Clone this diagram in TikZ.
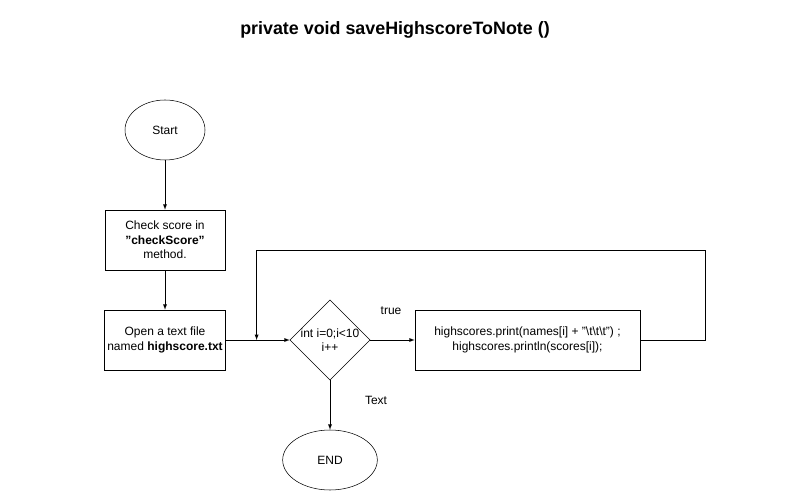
\documentclass[tikz,border=0pt]{standalone}
\usepackage{fontspec}
\setmainfont{Liberation Sans}
\usetikzlibrary{shapes.geometric,positioning,arrows}

\begin{document}
\begin{tikzpicture}[x=0.75pt,y=-0.75pt,
		every node/.style={on grid, font=\fontsize{9}{11}\selectfont},
		term/.style={draw, ellipse, minimum width=60pt, minimum height=45pt},
		proc/.style={draw, rectangle, minimum width=90pt, minimum height=45pt, align=center, inner sep=2pt},
		dec/.style={draw, diamond, minimum width=60pt, minimum height=60pt, inner sep=0pt},
		lbl/.style={inner sep=1pt},
		>=latex]
	\useasboundingbox (0,0) rectangle (791,491);
	\node[font=\bfseries\fontsize{13.4}{16}\selectfont] (title) at (395,30) {private void saveHighscoreToNote ()};
	
	\node[term] (start) at (165,130) {Start};
	\node[proc, below=82.5pt of start] (check) {Check score in\\\textbf{"checkScore"}\\method.};
	\node[proc, below=75pt of check] (open) {Open a text file\\named \textbf{highscore.txt}};
	\node[dec, right=123.75pt of open, label={[align=center]center:{int i=0;i<10\\i++}}] (loop) {};
	\node[proc, right=148.1pt of loop, minimum width=168.75pt] (code) {highscores.print(names[i] + "\textbackslash t\textbackslash t\textbackslash t") ;\\highscores.println(scores[i]);};
	\node[term, below=90pt of loop, minimum width=71pt] (end) {END};
	
	\node[lbl, above right=21.75pt and 45.75pt of loop] (truelbl) {true};
	\node[lbl, below right=45pt and 34.5pt of loop] (textlbl) {Text};
	
	\coordinate[right=23.25pt of open.east] (join);
	\coordinate[right=48.75pt of code.east] (loopr);
	\coordinate[above=67.5pt of join] (loopl);
	
	\draw[->] (start) -- (check);
	\draw[->] (check) -- (open);
	\draw[->] (open) -- (loop);
	\draw[->] (loop) -- (code);
	\draw[->] (loop) -- (end);
	\draw[->] (code) -- (loopr) |- (loopl) -- (join);
\end{tikzpicture}
\end{document}
